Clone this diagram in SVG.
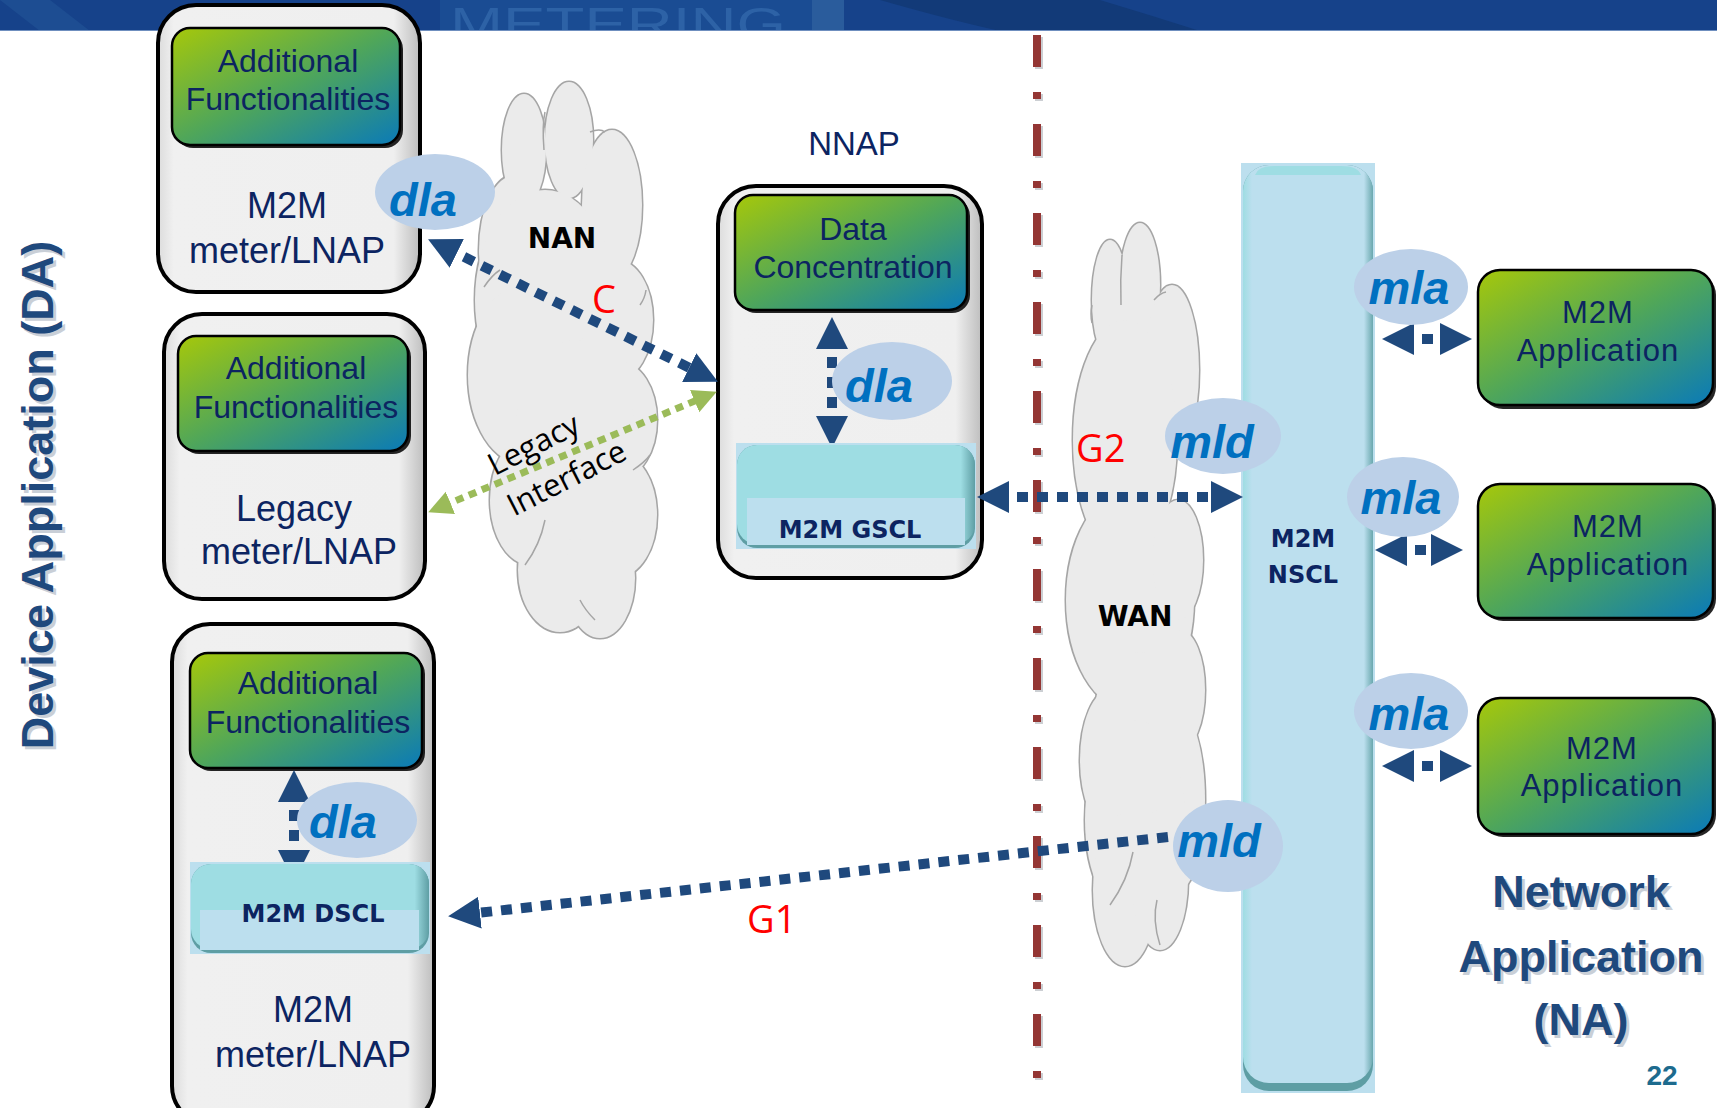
<svg xmlns="http://www.w3.org/2000/svg" width="1717" height="1108" viewBox="0 0 1717 1108">
<style>
.dev{fill:url(#devg);stroke:#000;stroke-width:4}
.gsh{fill:#000;opacity:.85}
.gb{fill:url(#green);stroke:#000;stroke-width:2.5}
.gt{font-family:"Liberation Sans",sans-serif;font-size:32px;fill:#0c2461;text-anchor:middle}
.at{font-family:"Liberation Sans",sans-serif;font-size:31px;letter-spacing:1px;fill:#0c2461;text-anchor:middle}
.mt{font-family:"Liberation Sans",sans-serif;font-size:36px;fill:#0c2461;text-anchor:middle}
.bt{font-family:"DejaVu Sans",sans-serif;font-weight:bold;font-size:24px;fill:#0c2461;text-anchor:middle}
.cl{font-family:"DejaVu Sans",sans-serif;font-weight:bold;font-size:28px;fill:#000;text-anchor:middle}
.red{font-family:"Open Sans",sans-serif;font-size:38px;fill:#ff0000}
.lbl{fill:#bcd0e8}
.it{font-family:"Liberation Sans",sans-serif;font-weight:bold;font-style:italic;font-size:47px;fill:#0070c0;text-anchor:middle}
.nv{fill:none;stroke:#1f497d;stroke-width:10;stroke-dasharray:11 9}
.co{stroke:#a5a5a5;stroke-width:3;fill:none}
.cf{fill:#ebebeb}
.big{font-family:"Liberation Sans",sans-serif;font-weight:bold;fill:#1f497d;text-anchor:middle}
.sh{fill:#8a96a8;opacity:.45}
</style>
<defs>
<linearGradient id="green" x1="0" y1="0" x2="1" y2="1">
<stop offset="0" stop-color="#a6c80a"/>
<stop offset="0.5" stop-color="#4fa65a"/>
<stop offset="1" stop-color="#0a7ab8"/>
</linearGradient>
<linearGradient id="devg" x1="0" y1="0" x2="1" y2="0">
<stop offset="0" stop-color="#dcdcdc"/>
<stop offset="0.06" stop-color="#f0f0f0"/>
<stop offset="0.9" stop-color="#efefef"/>
<stop offset="1" stop-color="#bdbdbd"/>
</linearGradient>
<linearGradient id="sclg" x1="0" y1="0" x2="1" y2="0">
<stop offset="0" stop-color="#9edde3"/>
<stop offset="0.94" stop-color="#9edde3"/>
<stop offset="1" stop-color="#5e9ea4"/>
</linearGradient>
<linearGradient id="nsclg" x1="0" y1="0" x2="1" y2="0">
<stop offset="0" stop-color="#9edde3"/>
<stop offset="0.07" stop-color="#bcdfee"/>
<stop offset="0.93" stop-color="#bcdfee"/>
<stop offset="1" stop-color="#6aa8ae"/>
</linearGradient>
<marker id="ah" markerUnits="userSpaceOnUse" markerWidth="34" markerHeight="34" refX="12" refY="16" orient="auto-start-reverse">
<path d="M0,0 L32,16 L0,32 z" fill="#1f497d"/>
</marker>
<marker id="ag" markerUnits="userSpaceOnUse" markerWidth="26" markerHeight="26" refX="8" refY="12" orient="auto-start-reverse">
<path d="M0,0 L24,12 L0,24 z" fill="#9bbb59"/>
</marker>
<clipPath id="banclip"><rect x="0" y="0" width="1717" height="31"/></clipPath>
</defs>

<rect x="0" y="0" width="1717" height="1108" fill="#fff"/>

<g id="banner" clip-path="url(#banclip)">
<rect x="0" y="0" width="1717" height="31" fill="#16428a"/>
<rect x="440" y="0" width="372" height="31" fill="#1a4c93"/>
<rect x="812" y="0" width="32" height="31" fill="#2a5c9c"/>
<path d="M880,0 Q950,20 1000,31 L1200,31 Q1150,15 1100,0 z" fill="#123a78"/>
<path d="M0,0 L40,31 L90,31 L50,0 z" fill="#1d4d92"/>
<text x="450" y="40" font-family="Liberation Sans, sans-serif" font-size="46" fill="#2d62a6" textLength="336" lengthAdjust="spacingAndGlyphs">METERING</text>
<rect x="0" y="30" width="1717" height="1.5" fill="#6f8fbf"/>
</g>

<g id="clouds">
<g id="nan-cloud">
<g class="co">
<ellipse cx="524" cy="150" rx="22" ry="56"/>
<ellipse cx="569" cy="140" rx="24" ry="58"/>
<ellipse cx="612" cy="205" rx="30" ry="75"/>
<ellipse cx="515" cy="250" rx="36" ry="75"/>
<ellipse cx="545" cy="300" rx="70" ry="110"/>
<ellipse cx="525" cy="375" rx="57" ry="90"/>
<ellipse cx="617" cy="320" rx="36" ry="60"/>
<ellipse cx="620" cy="420" rx="37" ry="58"/>
<ellipse cx="618" cy="515" rx="39" ry="62"/>
<ellipse cx="530" cy="500" rx="40" ry="65"/>
<ellipse cx="560" cy="570" rx="42" ry="62"/>
<ellipse cx="600" cy="578" rx="35" ry="60"/>
<ellipse cx="575" cy="440" rx="60" ry="100"/>
</g>
<g class="cf">
<ellipse cx="524" cy="150" rx="22" ry="56"/>
<ellipse cx="569" cy="140" rx="24" ry="58"/>
<ellipse cx="612" cy="205" rx="30" ry="75"/>
<ellipse cx="515" cy="250" rx="36" ry="75"/>
<ellipse cx="545" cy="300" rx="70" ry="110"/>
<ellipse cx="525" cy="375" rx="57" ry="90"/>
<ellipse cx="617" cy="320" rx="36" ry="60"/>
<ellipse cx="620" cy="420" rx="37" ry="58"/>
<ellipse cx="618" cy="515" rx="39" ry="62"/>
<ellipse cx="530" cy="500" rx="40" ry="65"/>
<ellipse cx="560" cy="570" rx="42" ry="62"/>
<ellipse cx="600" cy="578" rx="35" ry="60"/>
<ellipse cx="575" cy="440" rx="60" ry="100"/>
</g>
<g fill="none" stroke="#a5a5a5" stroke-width="1.5">
<path d="M545,112 Q542,125 544,150"/>
<path d="M590,132 Q600,128 605,132"/>
<path d="M484,287 Q492,275 500,270"/>
<path d="M640,305 Q645,298 646,290"/>
<path d="M633,470 Q645,462 650,455"/>
<path d="M525,565 Q540,545 545,520"/>
<path d="M595,620 Q585,610 580,600"/>
</g>
</g>
<g id="wan-cloud">
<g class="co">
<ellipse cx="1110" cy="300" rx="18" ry="60"/>
<ellipse cx="1140" cy="285" rx="20" ry="62"/>
<ellipse cx="1172" cy="370" rx="27" ry="85"/>
<ellipse cx="1125" cy="440" rx="52" ry="120"/>
<ellipse cx="1130" cy="600" rx="64" ry="110"/>
<ellipse cx="1178" cy="560" rx="25" ry="60"/>
<ellipse cx="1180" cy="690" rx="25" ry="60"/>
<ellipse cx="1140" cy="712" rx="45" ry="60"/>
<ellipse cx="1110" cy="760" rx="30" ry="70"/>
<ellipse cx="1178" cy="800" rx="27" ry="90"/>
<ellipse cx="1135" cy="820" rx="50" ry="100"/>
<ellipse cx="1125" cy="890" rx="32" ry="76"/>
<ellipse cx="1160" cy="880" rx="28" ry="70"/>
</g>
<g class="cf">
<ellipse cx="1110" cy="300" rx="18" ry="60"/>
<ellipse cx="1140" cy="285" rx="20" ry="62"/>
<ellipse cx="1172" cy="370" rx="27" ry="85"/>
<ellipse cx="1125" cy="440" rx="52" ry="120"/>
<ellipse cx="1130" cy="600" rx="64" ry="110"/>
<ellipse cx="1178" cy="560" rx="25" ry="60"/>
<ellipse cx="1180" cy="690" rx="25" ry="60"/>
<ellipse cx="1140" cy="712" rx="45" ry="60"/>
<ellipse cx="1110" cy="760" rx="30" ry="70"/>
<ellipse cx="1178" cy="800" rx="27" ry="90"/>
<ellipse cx="1135" cy="820" rx="50" ry="100"/>
<ellipse cx="1125" cy="890" rx="32" ry="76"/>
<ellipse cx="1160" cy="880" rx="28" ry="70"/>
</g>
<g fill="none" stroke="#a5a5a5" stroke-width="1.5">
<path d="M1122,255 Q1120,280 1121,305"/>
<path d="M1154,300 Q1160,293 1166,292"/>
<path d="M1092,323 Q1090,315 1092,305"/>
<path d="M1133,852 Q1128,880 1110,905"/>
<path d="M1157,900 Q1152,920 1160,945"/>
</g>
</g>
</g>

<g id="boundary">
<line x1="1039" y1="37" x2="1039" y2="1080" stroke="#9aa0a8" stroke-width="8" stroke-dasharray="32 25 7 25" opacity="0.5"/>
<line x1="1037" y1="35" x2="1037" y2="1078" stroke="#943634" stroke-width="8" stroke-dasharray="32 25 7 25"/>
</g>

<g id="node-da-label">
<text class="big sh" font-size="45" transform="translate(56,498) rotate(-90)">Device Application (DA)</text>
<text class="big" font-size="45" transform="translate(53,495) rotate(-90)">Device Application (DA)</text>
</g>

<g id="node-meter1">
<rect class="dev" x="158" y="5" width="262" height="287" rx="38"/>
<rect class="gsh" x="175" y="31" width="228" height="117" rx="18"/>
<rect class="gb" x="172" y="28" width="228" height="117" rx="18"/>
<text class="gt" x="288" y="72">Additional</text>
<text class="gt" x="288" y="110">Functionalities</text>
<text class="mt" x="287" y="218">M2M</text>
<text class="mt" x="287" y="263">meter/LNAP</text>
</g>

<g id="node-legacy">
<rect class="dev" x="164" y="314" width="261" height="285" rx="38"/>
<rect class="gsh" x="181" y="339" width="230" height="115" rx="18"/>
<rect class="gb" x="178" y="336" width="230" height="115" rx="18"/>
<text class="gt" x="296" y="379">Additional</text>
<text class="gt" x="296" y="418">Functionalities</text>
<text class="mt" x="294" y="521">Legacy</text>
<text class="mt" x="299" y="564">meter/LNAP</text>
</g>

<g id="node-meter2">
<rect class="dev" x="172" y="624" width="262" height="500" rx="38"/>
<rect class="gsh" x="193" y="656" width="232" height="115" rx="18"/>
<rect class="gb" x="190" y="653" width="232" height="115" rx="18"/>
<text class="gt" x="308" y="694">Additional</text>
<text class="gt" x="308" y="733">Functionalities</text>
<text class="mt" x="313" y="1022">M2M</text>
<text class="mt" x="313" y="1067">meter/LNAP</text>
</g>

<g id="node-nnap">
<text x="854" y="155" font-family="Liberation Sans, sans-serif" font-size="33" fill="#0c2461" text-anchor="middle">NNAP</text>
<rect class="dev" x="718" y="186" width="264" height="392" rx="38"/>
<rect class="gsh" x="738" y="198" width="232" height="115" rx="18"/>
<rect class="gb" x="735" y="195" width="232" height="115" rx="18"/>
<text class="gt" x="853" y="240">Data</text>
<text class="gt" x="853" y="278">Concentration</text>
</g>

<g id="node-nscl">
<rect x="1241" y="163" width="134" height="930" fill="#bcdfee"/>
<rect x="1243" y="165" width="130" height="926" rx="26" fill="#5e9ea4"/>
<rect x="1243" y="165" width="130" height="918" rx="26" fill="url(#nsclg)"/>
<path d="M1255,175 Q1258,166 1275,166 L1341,166 Q1358,166 1361,175 z" fill="#9edde3"/>
<text class="bt" x="1303" y="547" font-size="26">M2M</text>
<text class="bt" x="1303" y="583" font-size="26">NSCL</text>
</g>

<g id="node-app1">
<rect class="gsh" x="1481" y="273" width="235" height="136" rx="22"/>
<rect class="gb" x="1478" y="270" width="235" height="135" rx="22"/>
<text class="at" x="1598" y="323">M2M</text>
<text class="at" x="1598" y="361">Application</text>
</g>
<g id="node-app2">
<rect class="gsh" x="1481" y="487" width="235" height="134" rx="22"/>
<rect class="gb" x="1478" y="484" width="235" height="134" rx="22"/>
<text class="at" x="1608" y="537">M2M</text>
<text class="at" x="1608" y="575">Application</text>
</g>
<g id="node-app3">
<rect class="gsh" x="1481" y="701" width="235" height="136" rx="22"/>
<rect class="gb" x="1478" y="698" width="235" height="136" rx="22"/>
<text class="at" x="1602" y="759">M2M</text>
<text class="at" x="1602" y="796">Application</text>
</g>

<g id="connectors">
<line class="nv" x1="446" y1="248" x2="700" y2="373" marker-start="url(#ah)" marker-end="url(#ah)"/>
<line x1="443" y1="506" x2="702" y2="398" stroke="#9bbb59" stroke-width="7" stroke-dasharray="8 6" marker-start="url(#ag)" marker-end="url(#ag)"/>
<line class="nv" x1="832" y1="337" x2="832" y2="428" stroke-dasharray="10 9" marker-start="url(#ah)" marker-end="url(#ah)"/>
<line class="nv" x1="294" y1="790" x2="294" y2="862" stroke-dasharray="10 9" marker-start="url(#ah)" marker-end="url(#ah)"/>
<line class="nv" x1="997" y1="497" x2="1223" y2="497" stroke-dasharray="11 10" marker-start="url(#ah)" marker-end="url(#ah)"/>
<line class="nv" x1="1168" y1="837" x2="468" y2="914" stroke-dasharray="11 10" marker-end="url(#ah)"/>
<line class="nv" x1="1402" y1="339" x2="1452" y2="339" stroke-dasharray="21 14" marker-start="url(#ah)" marker-end="url(#ah)"/>
<line class="nv" x1="1395" y1="550" x2="1443" y2="550" stroke-dasharray="21 14" marker-start="url(#ah)" marker-end="url(#ah)"/>
<line class="nv" x1="1402" y1="766" x2="1452" y2="766" stroke-dasharray="21 14" marker-start="url(#ah)" marker-end="url(#ah)"/>
</g>

<g id="node-gscl">
<rect x="736" y="443" width="240" height="106" fill="#bcdfee"/>
<rect x="737" y="445" width="238" height="103" rx="20" fill="#5e9ea4"/>
<rect x="737" y="445" width="238" height="99" rx="20" fill="url(#sclg)"/>
<rect x="747" y="498" width="218" height="47" fill="#bcdfee"/>
<text class="bt" x="850" y="538">M2M GSCL</text>
</g>

<g id="node-dscl">
<rect x="190" y="862" width="240" height="92" fill="#bcdfee"/>
<rect x="191" y="864" width="238" height="89" rx="20" fill="#5e9ea4"/>
<rect x="191" y="864" width="238" height="85" rx="20" fill="url(#sclg)"/>
<rect x="200" y="910" width="219" height="40" fill="#bcdfee"/>
<text class="bt" x="313" y="922">M2M DSCL</text>
</g>

<g id="labels">
<text class="cl" x="562" y="248">NAN</text>
<text class="cl" x="1135" y="626">WAN</text>
<text class="red" x="604" y="313" text-anchor="middle">C</text>
<text class="red" x="1076" y="462">G2</text>
<text class="red" x="747" y="933">G1</text>
<g transform="translate(534,445) rotate(-27)" font-family="Open Sans, sans-serif" font-size="31" fill="#000" text-anchor="middle">
<text x="0" y="10">Legacy</text>
<text x="14" y="55">Interface</text>
</g>
<ellipse class="lbl" cx="435" cy="192" rx="60" ry="38"/>
<text class="it" x="423" y="216">dla</text>
<ellipse class="lbl" cx="892" cy="381" rx="60" ry="39"/>
<text class="it" x="879" y="402">dla</text>
<ellipse class="lbl" cx="357" cy="820" rx="60" ry="38"/>
<text class="it" x="343" y="838">dla</text>
<ellipse class="lbl" cx="1223" cy="436" rx="58" ry="38"/>
<text class="it" x="1212" y="458">mld</text>
<ellipse class="lbl" cx="1228" cy="846" rx="55" ry="46"/>
<text class="it" x="1219" y="857">mld</text>
<ellipse class="lbl" cx="1411" cy="287" rx="57" ry="38"/>
<text class="it" x="1409" y="304">mla</text>
<ellipse class="lbl" cx="1403" cy="497" rx="56" ry="40"/>
<text class="it" x="1401" y="514">mla</text>
<ellipse class="lbl" cx="1411" cy="711" rx="57" ry="38"/>
<text class="it" x="1409" y="730">mla</text>
</g>

<g id="node-na-label">
<g class="big sh" font-size="45" transform="translate(3,3)">
<text x="1581" y="907">Network</text>
<text x="1581" y="972">Application</text>
<text x="1581" y="1035">(NA)</text>
</g>
<g class="big" font-size="45">
<text x="1581" y="907">Network</text>
<text x="1581" y="972">Application</text>
<text x="1581" y="1035">(NA)</text>
</g>
<text x="1662" y="1085" font-family="Liberation Sans, sans-serif" font-weight="bold" font-size="28" fill="#1d6b8e" text-anchor="middle">22</text>
</g>
</svg>
